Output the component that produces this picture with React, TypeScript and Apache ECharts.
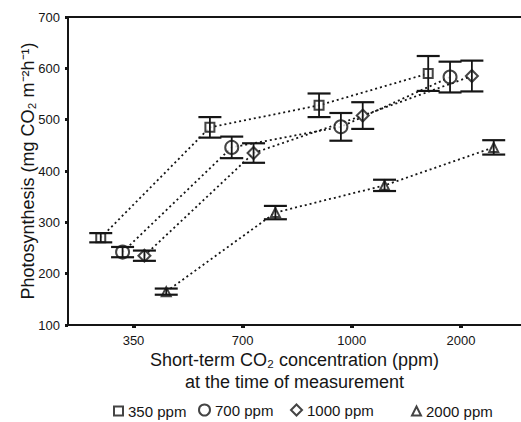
import React, { useEffect, useRef } from "react";
import * as echarts from "echarts";

const categories = ["350", "700", "1000", "2000"];
const seriesNames = ["350 ppm", "700 ppm", "1000 ppm", "2000 ppm"];
const mean350 = [270, 485, 528, 590];
const err350 = [9, 20, 23, 34];
const mean700 = [242, 446, 486, 583];
const err700 = [10, 21, 27, 30];
const mean1000 = [235, 435, 508, 585];
const err1000 = [10, 19, 26, 30];
const mean2000 = [165, 319, 372, 446];
const err2000 = [6, 13, 11, 14];

const yTicks = [100, 200, 300, 400, 500, 600, 700];

const means = [mean350, mean700, mean1000, mean2000];
const errs = [err350, err700, err1000, err2000];
const offsets = [-0.3, -0.1, 0.1, 0.3];
const symbols = ["rect", "circle", "diamond", "triangle"];
const symbolSizes: any[] = [[9, 9], 13, [12, 12], [9, 9]];
const legendLeft = [113, 198, 290, 411];
const legendIcon = [9, 11, 11, 9];

const INK = "#151515";
const FONT = "'Liberation Sans', Arial, Helvetica, sans-serif";

export default function App() {
  const ref = useRef<HTMLDivElement>(null);
  useEffect(() => {
    if (!ref.current) return;
    const chart = echarts.init(ref.current, null, { renderer: "svg" });
    const series: any[] = [];
    means.forEach((m, s) => {
      const pts = m.map((v, i) => [i + offsets[s], v]);
      series.push({
        type: "line",
        data: pts,
        symbol: "none",
        silent: true,
        z: 1,
        lineStyle: { color: INK, width: 1.8, type: [2, 3] },
      });
      series.push({
        type: "scatter",
        name: seriesNames[s],
        data: pts,
        symbol: symbols[s],
        symbolSize: symbolSizes[s],
        z: 2,
        itemStyle: { color: "#fff", borderColor: INK, borderWidth: 2 },
      });
      series.push({
        type: "custom",
        z: 3,
        silent: true,
        encode: { x: 0, y: [1, 2] },
        data: m.map((v, i) => [i + offsets[s], v - errs[s][i], v + errs[s][i]]),
        renderItem: (params: any, api: any) => {
          const x = api.value(0);
          const a = api.coord([x, api.value(2)]);
          const b = api.coord([x, api.value(1)]);
          const hw = 11.5;
          const cap = { stroke: INK, lineWidth: 2.2 };
          return {
            type: "group",
            children: [
              { type: "line", shape: { x1: a[0], y1: a[1], x2: b[0], y2: b[1] }, style: { stroke: INK, lineWidth: 1.8 } },
              { type: "line", shape: { x1: a[0] - hw, y1: a[1], x2: a[0] + hw, y2: a[1] }, style: cap },
              { type: "line", shape: { x1: b[0] - hw, y1: b[1], x2: b[0] + hw, y2: b[1] }, style: cap },
            ],
          };
        },
      });
    });

    const legends = seriesNames.map((n, s) => ({
      data: [n],
      left: legendLeft[s],
      top: 408 - legendIcon[s] / 2,
      padding: 0,
      itemWidth: legendIcon[s],
      itemHeight: legendIcon[s],
      itemGap: 0,
      textStyle: { fontSize: 15, color: INK, fontFamily: FONT },
    }));

    chart.setOption({
      animation: false,
      backgroundColor: "#fff",
      textStyle: { fontFamily: FONT },
      legend: legends,
      grid: { left: 68, top: 17, right: 0, bottom: 97, containLabel: false },
      xAxis: [
        {
          type: "value",
          position: "bottom",
          min: -0.6,
          max: 3.55,
          splitLine: { show: false },
          axisLine: { show: true, onZero: false, lineStyle: { color: INK, width: 2 } },
          axisTick: { show: true, customValues: [0, 1, 2, 3], length: 3, lineStyle: { color: INK, width: 4 } },
          axisLabel: {
            customValues: [0, 1, 2, 3],
            formatter: (v: number) => categories[Math.round(v)] ?? "",
            fontSize: 13,
            color: INK,
            margin: 9,
            fontFamily: FONT,
          },
          name: "Short-term CO₂ concentration (ppm)\nat the time of measurement",
          nameLocation: "middle",
          nameGap: 24,
          nameMoveOverlap: false,
          nameTextStyle: { fontSize: 18, color: INK, lineHeight: 22, fontFamily: FONT },
        },
        {
          type: "value",
          position: "top",
          min: -0.6,
          max: 3.55,
          splitLine: { show: false },
          axisLine: { show: true, onZero: false, lineStyle: { color: INK, width: 2 } },
          axisTick: { show: false },
          axisLabel: { show: false },
        },
      ],
      yAxis: {
        type: "value",
        min: yTicks[0],
        max: yTicks[yTicks.length - 1],
        interval: 100,
        splitLine: { show: false },
        axisLine: { show: true, onZero: false, lineStyle: { color: INK, width: 2 } },
        axisTick: { show: true, length: 3, lineStyle: { color: INK, width: 3 } },
        axisLabel: { fontSize: 13, color: INK, margin: 8, fontFamily: FONT },
        name: "Photosynthesis (mg CO₂ m⁻²h⁻¹)",
        nameLocation: "middle",
        nameRotate: 90,
        nameGap: 31,
        nameMoveOverlap: false,
        nameTextStyle: { fontSize: 18, color: INK, fontFamily: FONT },
      },
      series,
    });
    return () => chart.dispose();
  }, []);
  return (
    <div
      ref={ref}
      style={{ position: "absolute", left: 0, top: 0, width: 521, height: 422, background: "#fff" }}
    />
  );
}
